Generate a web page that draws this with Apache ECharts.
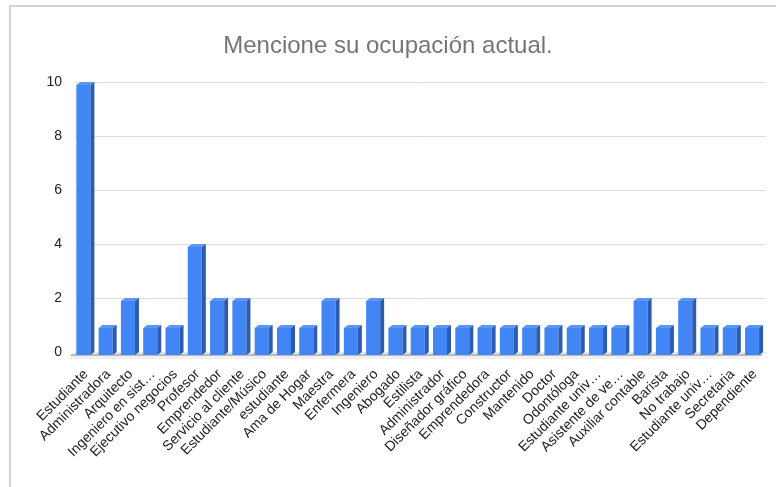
<!DOCTYPE html>
<html>
<head>
<meta charset="utf-8">
<script src="https://cdn.jsdelivr.net/npm/echarts@6/dist/echarts.min.js"></script>
<style>
  html, body { margin: 0; padding: 0; background: #ffffff; }
  #frame { position: absolute; left: 9px; top: 5px; width: 800px; height: 500px;
           border-left: 2px solid #d3d3d3; border-top: 2px solid #d3d3d3; }
  #chart { position: absolute; left: 0; top: 0; width: 776px; height: 487px; }
</style>
</head>
<body>
<div id="frame"></div>
<div id="chart"></div>
<script>
// Occupations reported and how many people gave each one
const categories = [
  'Estudiante', 'Administradora', 'Arquitecto', 'Ingeniero en sist…', 'Ejecutivo negocios',
  'Profesor', 'Emprendedor', 'Servicio al cliente', 'Estudiante/Músico', 'estudiante',
  'Ama de Hogar', 'Maestra', 'Enfermera', 'Ingeniero', 'Abogado', 'Estilista',
  'Administrador', 'Diseñador gráfico', 'Emprendedora', 'Constructor', 'Mantenido',
  'Doctor', 'Odontóloga', 'Estudiante univ…', 'Asistente de ve…', 'Auxiliar contable',
  'Barista', 'No trabajo', 'Estudiante univ…', 'Secretaria', 'Dependiente'
];
const counts = [
  10, 1, 2, 1, 1,
  4, 2, 2, 1, 1,
  1, 2, 1, 2, 1, 1,
  1, 1, 1, 1, 1,
  1, 1, 1, 1, 2,
  1, 2, 1, 1, 1
];
const yTicks = { min: 0, max: 10, interval: 2 };

const DX = 4, DY = 3;   // depth offset of the 3D effect

// Bars with a front face, a lighter top and a darker right side
function renderBar(params, api) {
  const i = api.value(0), v = api.value(1);
  const top = api.coord([i, v]);
  const base = api.coord([i, 0]);
  const band = api.size([1, 0])[0];
  const w = band * 0.63;
  const x0 = top[0] - band / 2 + band * 0.06;
  const yT = top[1] + DY, yB = base[1] + DY;
  return {
    type: 'group',
    children: [
      { type: 'rect', shape: { x: x0, y: yT, width: w, height: yB - yT },
        style: { fill: '#4285f4' } },
      { type: 'polygon', shape: { points: [[x0, yT], [x0 + DX, yT - DY], [x0 + w + DX, yT - DY], [x0 + w, yT]] },
        style: { fill: '#5b95f5' } },
      { type: 'polygon', shape: { points: [[x0 + w, yT], [x0 + w + DX, yT - DY], [x0 + w + DX, yB - DY], [x0 + w, yB]] },
        style: { fill: '#2b5cb0' } }
    ]
  };
}

// Floor slab under the bars
function renderFloor(params, api) {
  const cs = params.coordSys;
  const y0 = api.coord([0, 0])[1];
  const l = cs.x, r = cs.x + cs.width;
  return {
    type: 'group',
    children: [
      { type: 'polygon', shape: { points: [[l, y0], [r, y0], [r - DX, y0 + DY], [l - DX, y0 + DY]] },
        style: { fill: '#e6e6e6' } },
      { type: 'polygon', shape: { points: [[l - DX, y0 + DY], [r - DX, y0 + DY], [r - DX - 2, y0 + DY + 4], [l - DX - 2, y0 + DY + 4]] },
        style: { fill: '#f0f0f0' } },
      { type: 'line', shape: { x1: l - DX, y1: y0 + DY, x2: r - DX, y2: y0 + DY },
        style: { stroke: '#8a8a8a', lineWidth: 1 } }
    ]
  };
}

const chart = echarts.init(document.getElementById('chart'), null, { renderer: 'canvas' });
chart.setOption({
  animation: false,
  backgroundColor: 'transparent',
  title: {
    text: 'Mencione su ocupación actual.',
    left: 'center',
    top: 29,
    textStyle: { fontFamily: 'Liberation Sans', fontSize: 24, fontWeight: 'normal', color: '#757575' }
  },
  grid: { left: 75, right: 10, top: 82, bottom: 135, containLabel: false },
  xAxis: {
    type: 'category',
    data: categories,
    boundaryGap: true,
    axisLine: { show: false },
    axisTick: { show: false },
    axisLabel: {
      interval: 0, rotate: 45, margin: 20,
      fontFamily: 'Liberation Sans', fontSize: 14, color: '#222222'
    }
  },
  yAxis: {
    type: 'value',
    min: yTicks.min, max: yTicks.max, interval: yTicks.interval,
    axisLine: { show: false },
    axisTick: { show: false },
    splitLine: { lineStyle: { color: '#dcdcdc', width: 1 } },
    axisLabel: { margin: 13, fontFamily: 'Liberation Sans', fontSize: 14, color: '#222222' }
  },
  series: [
    { type: 'custom', renderItem: renderFloor, data: [[0, 0]], silent: true, z: 1 },
    {
      type: 'custom',
      renderItem: renderBar,
      encode: { x: 0, y: 1 },
      data: counts.map((c, i) => [i, c]),
      z: 2
    }
  ]
});
</script>
</body>
</html>
